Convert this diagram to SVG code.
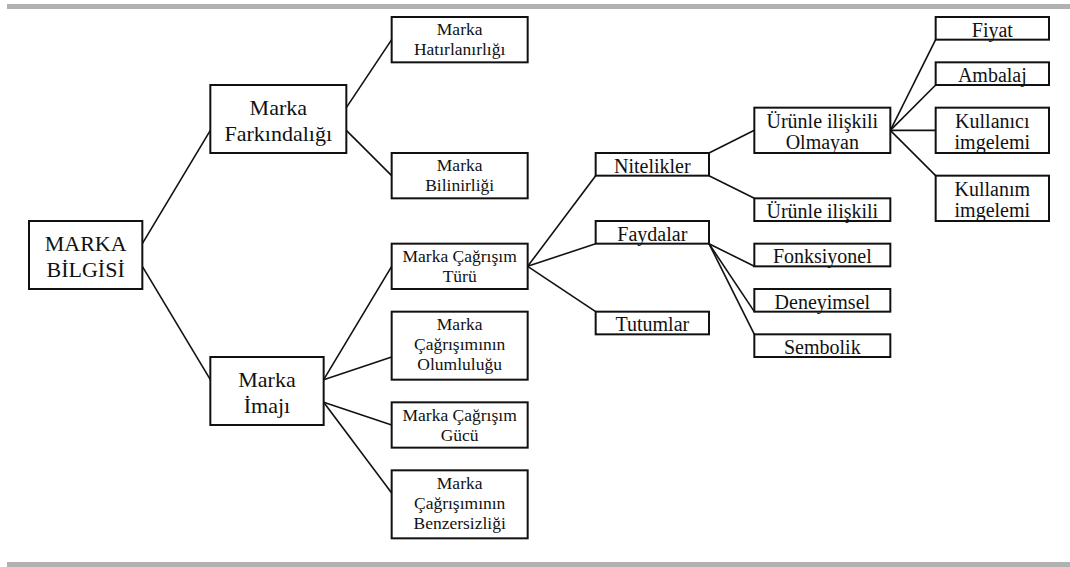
<svg xmlns="http://www.w3.org/2000/svg" width="1070" height="567" viewBox="0 0 1070 567">
<style>
.bar{fill:#b1b1b1}
.box rect{fill:#fff;stroke:#111;stroke-width:2}
.box text, svg text{font-family:'Liberation Serif','Times New Roman',serif !important;fill:#111;text-anchor:middle}
.txl{font-size:22px}
.txm{font-size:17.5px}
.txs{font-size:20px}
#connectors line{stroke:#111;stroke-width:1.6;fill:none}
</style>
<rect class="bar" x="7" y="4" width="1063" height="5"/>
<rect class="bar" x="7" y="562" width="1063" height="5"/>
<g id="connectors">
<line x1="142.33" y1="243.67" x2="210.33" y2="130.33"/>
<line x1="142.33" y1="266.33" x2="210.33" y2="379.67"/>
<line x1="346.33" y1="107.67" x2="391.67" y2="39.67"/>
<line x1="346.33" y1="130.33" x2="391.67" y2="175.67"/>
<line x1="323.67" y1="379.67" x2="391.67" y2="266.33"/>
<line x1="323.67" y1="379.67" x2="391.67" y2="357"/>
<line x1="323.67" y1="402.33" x2="391.67" y2="425"/>
<line x1="323.67" y1="402.33" x2="391.67" y2="493"/>
<line x1="527.67" y1="266.33" x2="595.67" y2="175.67"/>
<line x1="527.67" y1="266.33" x2="595.67" y2="243.67"/>
<line x1="527.67" y1="266.33" x2="595.67" y2="311.67"/>
<line x1="709" y1="153" x2="754.33" y2="130.33"/>
<line x1="709" y1="175.67" x2="754.33" y2="198.33"/>
<line x1="709" y1="243.67" x2="754.33" y2="266.33"/>
<line x1="709" y1="243.67" x2="754.33" y2="311.67"/>
<line x1="709" y1="243.67" x2="754.33" y2="334.33"/>
<line x1="890.33" y1="130.33" x2="935.67" y2="39.67"/>
<line x1="890.33" y1="130.33" x2="935.67" y2="85"/>
<line x1="890.33" y1="130.33" x2="935.67" y2="130.33"/>
<line x1="890.33" y1="130.33" x2="935.67" y2="175.67"/>
</g>
<g id="marka-bilgisi" class="box"><rect x="29" y="221" width="113.33" height="68"/><text style="font-family:'Liberation Serif',serif !important" class="txl" x="85.67" y="251">MARKA</text><text style="font-family:'Liberation Serif',serif !important" class="txl" x="85.67" y="277">BİLGİSİ</text></g>
<g id="marka-farkindaligi" class="box"><rect x="210.33" y="85" width="136" height="68"/><text style="font-family:'Liberation Serif',serif !important" class="txl" x="278.33" y="115">Marka</text><text style="font-family:'Liberation Serif',serif !important" class="txl" x="278.33" y="141">Farkındalığı</text></g>
<g id="marka-imaji" class="box"><rect x="210.33" y="357" width="113.33" height="68"/><text style="font-family:'Liberation Serif',serif !important" class="txl" x="267" y="387">Marka</text><text style="font-family:'Liberation Serif',serif !important" class="txl" x="267" y="413">İmajı</text></g>
<g id="marka-hatirlanirligi" class="box"><rect x="391.67" y="17" width="136" height="45.33"/><text style="font-family:'Liberation Serif',serif !important" class="txm" x="459.67" y="35.2">Marka</text><text style="font-family:'Liberation Serif',serif !important" class="txm" x="459.67" y="55.2">Hatırlanırlığı</text></g>
<g id="marka-bilinirligi" class="box"><rect x="391.67" y="153" width="136" height="45.33"/><text style="font-family:'Liberation Serif',serif !important" class="txm" x="459.67" y="171.2">Marka</text><text style="font-family:'Liberation Serif',serif !important" class="txm" x="459.67" y="191.2">Bilinirliği</text></g>
<g id="marka-cagrisim-turu" class="box"><rect x="391.67" y="243.67" width="136" height="45.33"/><text style="font-family:'Liberation Serif',serif !important" class="txm" x="459.67" y="261.8">Marka Çağrışım</text><text style="font-family:'Liberation Serif',serif !important" class="txm" x="459.67" y="281.8">Türü</text></g>
<g id="olumlulugu" class="box"><rect x="391.67" y="311.67" width="136" height="68"/><text style="font-family:'Liberation Serif',serif !important" class="txm" x="459.67" y="330.2">Marka</text><text style="font-family:'Liberation Serif',serif !important" class="txm" x="459.67" y="350.2">Çağrışımının</text><text style="font-family:'Liberation Serif',serif !important" class="txm" x="459.67" y="370.2">Olumluluğu</text></g>
<g id="cagrisim-gucu" class="box"><rect x="391.67" y="402.33" width="136" height="45.33"/><text style="font-family:'Liberation Serif',serif !important" class="txm" x="459.67" y="420.5">Marka Çağrışım</text><text style="font-family:'Liberation Serif',serif !important" class="txm" x="459.67" y="440.5">Gücü</text></g>
<g id="benzersizligi" class="box"><rect x="391.67" y="470.33" width="136" height="68"/><text style="font-family:'Liberation Serif',serif !important" class="txm" x="459.67" y="488.8">Marka</text><text style="font-family:'Liberation Serif',serif !important" class="txm" x="459.67" y="508.8">Çağrışımının</text><text style="font-family:'Liberation Serif',serif !important" class="txm" x="459.67" y="528.8">Benzersizliği</text></g>
<g id="nitelikler" class="box"><rect x="595.67" y="153" width="113.33" height="22.67"/><text style="font-family:'Liberation Serif',serif !important" class="txs" x="652.33" y="172.7">Nitelikler</text></g>
<g id="faydalar" class="box"><rect x="595.67" y="221" width="113.33" height="22.67"/><text style="font-family:'Liberation Serif',serif !important" class="txs" x="652.33" y="240.7">Faydalar</text></g>
<g id="tutumlar" class="box"><rect x="595.67" y="311.67" width="113.33" height="22.67"/><text style="font-family:'Liberation Serif',serif !important" class="txs" x="652.33" y="331.3">Tutumlar</text></g>
<g id="urunle-iliskili-olmayan" class="box"><rect x="754.33" y="107.67" width="136" height="45.33"/><text style="font-family:'Liberation Serif',serif !important" class="txs" x="822.33" y="128.3">Ürünle ilişkili</text><text style="font-family:'Liberation Serif',serif !important" class="txs" x="822.33" y="149.3">Olmayan</text></g>
<g id="urunle-iliskili" class="box"><rect x="754.33" y="198.33" width="136" height="22.67"/><text style="font-family:'Liberation Serif',serif !important" class="txs" x="822.33" y="218">Ürünle ilişkili</text></g>
<g id="fonksiyonel" class="box"><rect x="754.33" y="243.67" width="136" height="22.67"/><text style="font-family:'Liberation Serif',serif !important" class="txs" x="822.33" y="263.3">Fonksiyonel</text></g>
<g id="deneyimsel" class="box"><rect x="754.33" y="289" width="136" height="22.67"/><text style="font-family:'Liberation Serif',serif !important" class="txs" x="822.33" y="308.7">Deneyimsel</text></g>
<g id="sembolik" class="box"><rect x="754.33" y="334.33" width="136" height="22.67"/><text style="font-family:'Liberation Serif',serif !important" class="txs" x="822.33" y="354">Sembolik</text></g>
<g id="fiyat" class="box"><rect x="935.67" y="17" width="113.33" height="22.67"/><text style="font-family:'Liberation Serif',serif !important" class="txs" x="992.33" y="36.7">Fiyat</text></g>
<g id="ambalaj" class="box"><rect x="935.67" y="62.33" width="113.33" height="22.67"/><text style="font-family:'Liberation Serif',serif !important" class="txs" x="992.33" y="82">Ambalaj</text></g>
<g id="kullanici-imgelemi" class="box"><rect x="935.67" y="107.67" width="113.33" height="45.33"/><text style="font-family:'Liberation Serif',serif !important" class="txs" x="992.33" y="128.3">Kullanıcı</text><text style="font-family:'Liberation Serif',serif !important" class="txs" x="992.33" y="149.3">imgelemi</text></g>
<g id="kullanim-imgelemi" class="box"><rect x="935.67" y="175.67" width="113.33" height="45.33"/><text style="font-family:'Liberation Serif',serif !important" class="txs" x="992.33" y="196.3">Kullanım</text><text style="font-family:'Liberation Serif',serif !important" class="txs" x="992.33" y="217.3">imgelemi</text></g>
</svg>
